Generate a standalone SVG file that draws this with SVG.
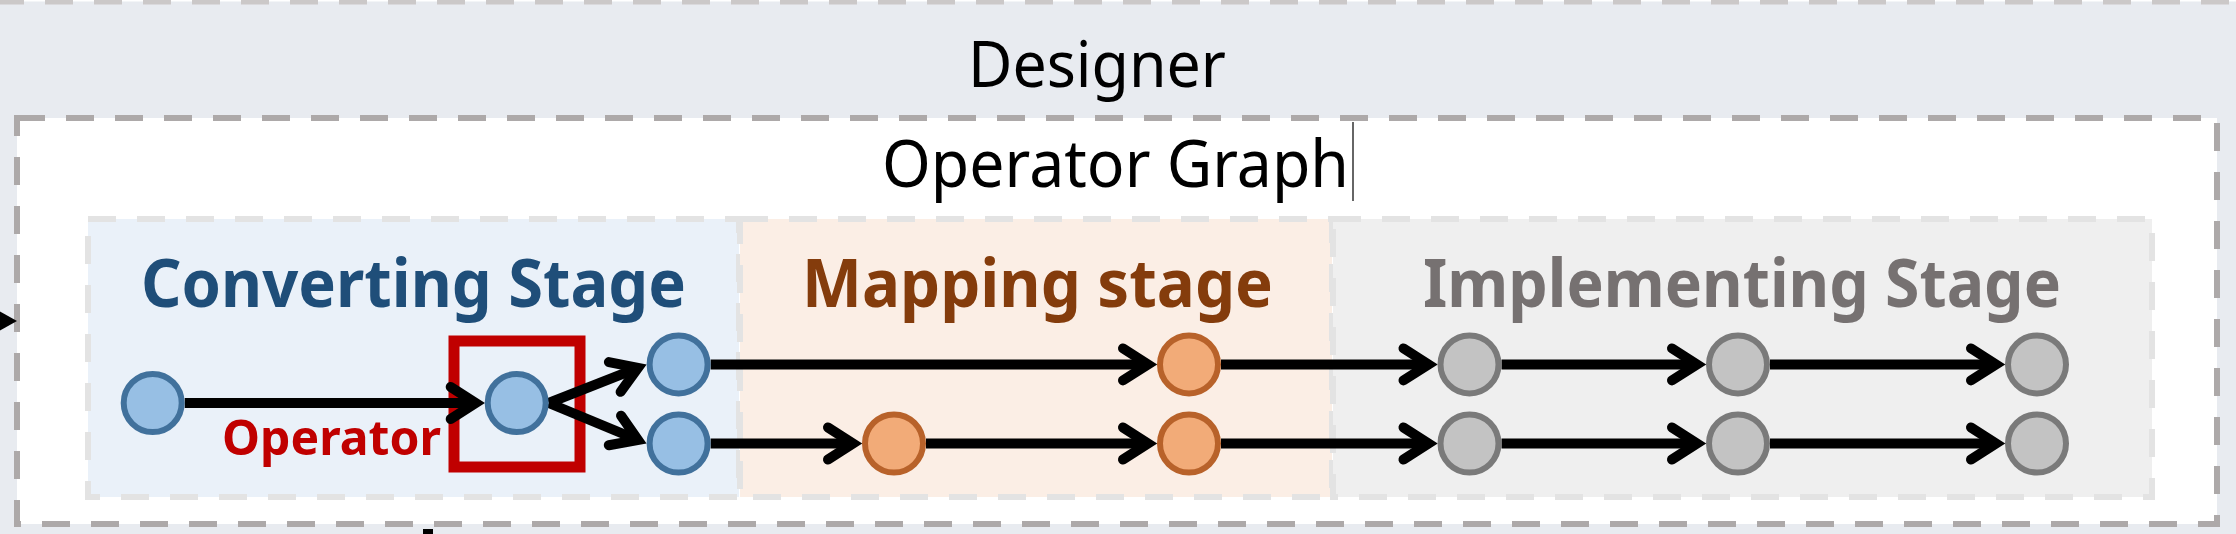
<svg xmlns="http://www.w3.org/2000/svg" width="2236" height="534" viewBox="0 0 2236 534">
  <style>
    .dash { stroke-dasharray: 28 21; stroke-width: 6; }
    .title { font-family: "Noto Sans", "Open Sans", sans-serif; fill: #000000; }
    .stagetitle { font-family: "Noto Sans", "Open Sans", sans-serif; font-weight: bold; }
    .conn { stroke: #000000; stroke-width: 10; fill: none; marker-end: url(#chev); }
    .blue { fill: #97BFE4; stroke: #41719C; stroke-width: 6; }
    .orange { fill: #F2AB78; stroke: #B8622A; stroke-width: 6; }
    .gray { fill: #C3C3C3; stroke: #7A7A7A; stroke-width: 6; }
  </style>
  <defs>
    <marker id="chev" markerUnits="userSpaceOnUse" viewBox="-40 -30 60 60" refX="0" refY="0" markerWidth="60" markerHeight="60" orient="auto">
      <path d="M-25,-16 L0,0 L-25,16" fill="none" stroke="#000000" stroke-width="10" stroke-linecap="round" stroke-linejoin="miter"/>
    </marker>
  </defs>

  <!-- Designer container -->
  <g id="designer">
    <rect x="-4" y="1.5" width="2246" height="600" fill="#E8EBF0" stroke="#CBC8C8" class="dash"/>
    <text class="title" x="968" y="87" font-size="63" textLength="258" lengthAdjust="spacingAndGlyphs">Designer</text>
  </g>

  <!-- Operator Graph container -->
  <g id="operator-graph">
    <rect x="17" y="118" width="2200" height="406" fill="#FFFFFF" stroke="#ADA9A9" class="dash"/>
    <text class="title" x="882" y="186.5" font-size="65" textLength="467" lengthAdjust="spacingAndGlyphs">Operator Graph</text>
    <line x1="1353" y1="122" x2="1353" y2="201" stroke="#333333" stroke-width="1.5"/>
  </g>

  <!-- Stages -->
  <g id="converting-stage">
    <rect x="88" y="219" width="651" height="278" fill="#EAF1F9" stroke="#E3E3E3" class="dash"/>
    <text class="stagetitle" x="141" y="306.5" font-size="66" fill="#1F4E79" textLength="545" lengthAdjust="spacingAndGlyphs">Converting Stage</text>
  </g>
  <g id="mapping-stage">
    <rect x="740" y="219" width="592" height="278" fill="#FBEEE5" stroke="#E3E3E3" class="dash"/>
    <text class="stagetitle" x="802" y="307" font-size="66" fill="#843C0C" textLength="471" lengthAdjust="spacingAndGlyphs">Mapping stage</text>
  </g>
  <g id="implementing-stage">
    <rect x="1333" y="219" width="819" height="278" fill="#EFEFEF" stroke="#E3E3E3" class="dash"/>
    <text class="stagetitle" x="1423" y="307" font-size="66" fill="#767171" textLength="638" lengthAdjust="spacingAndGlyphs">Implementing Stage</text>
  </g>

  <!-- Operator highlight -->
  <g id="operator-highlight">
    <rect x="454" y="341" width="126" height="126" fill="none" stroke="#C00000" stroke-width="11"/>
    <text class="stagetitle" x="222" y="455" font-size="49" fill="#C00000" textLength="219" lengthAdjust="spacingAndGlyphs">Operator</text>
  </g>

  <!-- External arrow fragments -->
  <g id="external">
    <polygon points="-6,308 17,321 -6,334" fill="#000000"/>
    <rect x="423" y="529" width="10" height="6" fill="#000000"/>
  </g>

  <!-- Connectors -->
  <g id="connectors">
    <path class="conn" d="M184.7,403 L475.7,403"/>
    <path class="conn" d="M548.7,403 L638,367.8"/>
    <path class="conn" d="M548.7,403 L638,440"/>
    <path class="conn" d="M710.6,364.4 L1148,364.4"/>
    <path class="conn" d="M1221,364.4 L1428.5,364.4"/>
    <path class="conn" d="M1501.5,364.4 L1697,364.4"/>
    <path class="conn" d="M1770,364.4 L1996,364.4"/>
    <path class="conn" d="M710.6,443.5 L853,443.5"/>
    <path class="conn" d="M926,443.5 L1148,443.5"/>
    <path class="conn" d="M1221,443.5 L1428.5,443.5"/>
    <path class="conn" d="M1501.5,443.5 L1697,443.5"/>
    <path class="conn" d="M1770,443.5 L1996,443.5"/>
  </g>

  <!-- Nodes -->
  <g id="c1"><circle class="blue" cx="152.7" cy="403" r="29"/></g>
  <g id="c2"><circle class="blue" cx="516.7" cy="403" r="29"/></g>
  <g id="c3"><circle class="blue" cx="678.6" cy="364.4" r="29"/></g>
  <g id="c4"><circle class="blue" cx="678.6" cy="443.5" r="29"/></g>
  <g id="m1"><circle class="orange" cx="1189" cy="364.4" r="29"/></g>
  <g id="m2"><circle class="orange" cx="894" cy="443.5" r="29"/></g>
  <g id="m3"><circle class="orange" cx="1189" cy="443.5" r="29"/></g>
  <g id="i1"><circle class="gray" cx="1469.5" cy="364.4" r="29"/></g>
  <g id="i2"><circle class="gray" cx="1738" cy="364.4" r="29"/></g>
  <g id="i3"><circle class="gray" cx="2037" cy="364.4" r="29"/></g>
  <g id="i4"><circle class="gray" cx="1469.5" cy="443.5" r="29"/></g>
  <g id="i5"><circle class="gray" cx="1738" cy="443.5" r="29"/></g>
  <g id="i6"><circle class="gray" cx="2037" cy="443.5" r="29"/></g>
</svg>
